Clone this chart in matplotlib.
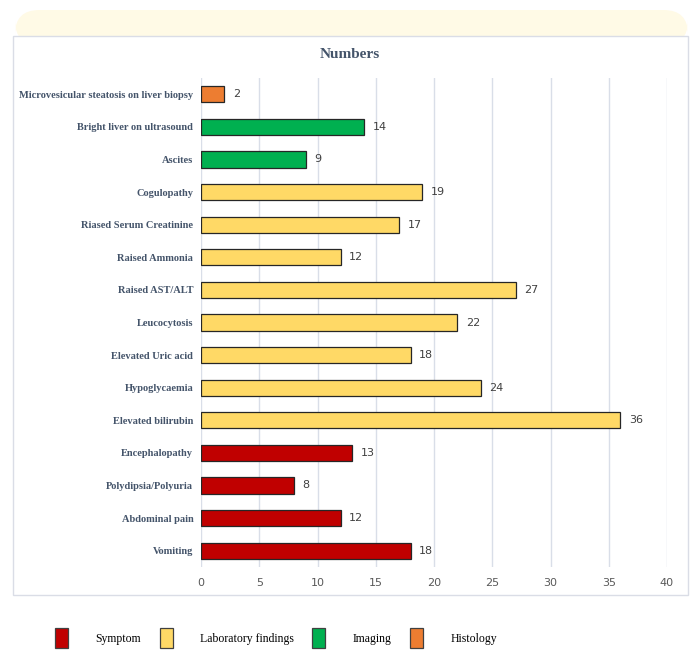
import matplotlib.pyplot as plt
from matplotlib.patches import Patch, FancyBboxPatch, Rectangle

# data, bottom to top
labels = ['Vomiting', 'Abdominal pain', 'Polydipsia/Polyuria', 'Encephalopathy',
          'Elevated bilirubin', 'Hypoglycaemia', 'Elevated Uric acid', 'Leucocytosis',
          'Raised AST/ALT', 'Raised Ammonia', 'Riased Serum Creatinine', 'Cogulopathy',
          'Ascites', 'Bright liver on ultrasound', 'Microvesicular steatosis on liver biopsy']
values = [18, 12, 8, 13, 36, 24, 18, 22, 27, 12, 17, 19, 9, 14, 2]
groups = ['Symptom'] * 4 + ['Laboratory findings'] * 8 + ['Imaging'] * 2 + ['Histology']

group_names = ['Symptom', 'Laboratory findings', 'Imaging', 'Histology']
group_colors = {'Symptom': '#C00000', 'Laboratory findings': '#FFD966',
                'Imaging': '#00B050', 'Histology': '#ED7D31'}

W, H = 691, 657
fig = plt.figure(figsize=(W / 100, H / 100), dpi=100)

# pale yellow rounded header and white framed box
fig.add_artist(FancyBboxPatch((15 / W, 1 - 45 / H), 673 / W, 35 / H,
                              boxstyle='round,pad=0,rounding_size=0.035',
                              transform=fig.transFigure, fc='#FFFAE6', ec='none',
                              zorder=0, mutation_aspect=W / H))
fig.add_artist(Rectangle((13 / W, 1 - 595 / H), 675 / W, 559 / H,
                         transform=fig.transFigure, fc='white', ec='#DADDE6',
                         lw=1, zorder=0.5))

ax = fig.add_axes([201 / W, 1 - 567 / H, 466 / W, 489 / H])
ax.set_zorder(2)
ax.set_facecolor('none')
y = range(len(labels))
colors = [group_colors[g] for g in groups]
bars = ax.barh(y, values, height=0.5, color=colors, edgecolor='#262626', lw=0.9, zorder=3)
ax.bar_label(bars, padding=6, fontsize=8, color='#404040', family='DejaVu Sans')

ax.set_xlim(0, 40)
ax.set_ylim(-0.5, len(labels) - 0.5)
ax.set_xticks(range(0, 41, 5))
ax.set_yticks(list(y))
ax.set_yticklabels(labels, family='Liberation Serif', fontweight='bold',
                   fontsize=7.5, color='#44546A')
ax.tick_params(axis='x', labelsize=8, labelcolor='#595959', length=0, pad=8)
ax.tick_params(axis='y', length=0, pad=5.5)
ax.grid(axis='x', color='#D9DEE8', lw=1, zorder=0)
for s in ax.spines.values():
    s.set_visible(False)

fig.text(350 / W, 1 - 54 / H, 'Numbers', ha='center', va='center',
         family='Liberation Serif', fontweight='bold', fontsize=11, color='#44546A')

handles = [Patch(fc=group_colors[g], ec='#404040', lw=0.9) for g in group_names]
fig.legend(handles, group_names, loc='center', bbox_to_anchor=(276 / W, 1 - 638 / H),
           ncol=4, frameon=False, handlelength=1.1, handleheight=2.2,
           handletextpad=2.3, columnspacing=1.6,
           prop={'family': 'Liberation Serif', 'size': 8.5})

fig.savefig('out.png', dpi=100)
